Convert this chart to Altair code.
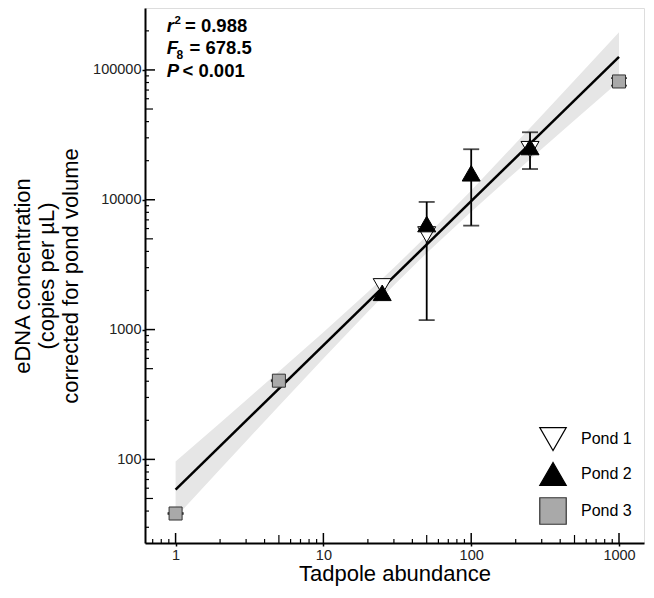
import altair as alt
import pandas as pd

# ---------------- data ----------------
ponds = ["Pond 1", "Pond 2", "Pond 3"]

pond1_x = [25, 50, 250]
pond1_y = [2150, 5400, 24500]
pond2_x = [25, 50, 100, 250]
pond2_y = [1920, 6500, 16000, 25500]
pond3_x = [1, 5, 1000]
pond3_y = [38.3, 404, 81500]

err_x = [1, 5, 50, 100, 250, 1000]
err_lo = [37.9, 400, 1183, 6320, 17250, 75700]
err_hi = [38.7, 408, 9620, 24500, 33100, 86500]

fit_x = [1, 1000]
fit_y = [58.6, 126000]

band_x = [1, 2, 3, 5, 10, 20, 30, 50, 100, 200, 300, 500, 1000]
band_lo = [35.7, 83.9, 138, 258, 600, 1374, 2198, 3890, 8075, 16370, 24600, 40950, 81500]
band_hi = [96.2, 191, 286, 476, 955, 1945, 2992, 5272, 11800, 27200, 44600, 83400, 195000]

x_major = [1, 10, 100, 1000]
x_mid = [5, 50, 500]
x_minor = [0.7, 0.8, 0.9, 2, 3, 4, 6, 7, 8, 9, 20, 30, 40, 60, 70, 80, 90,
           200, 300, 400, 600, 700, 800, 900]
y_major = [100, 1000, 10000, 100000]
y_mid = [50, 500, 5000, 50000]
y_minor = [30, 40, 60, 70, 80, 90, 200, 300, 400, 600, 700, 800, 900,
           2000, 3000, 4000, 6000, 7000, 8000, 9000,
           20000, 30000, 40000, 60000, 70000, 80000, 90000, 200000]

# ---------------- tables ----------------
pts = pd.DataFrame(
    {"x": pond1_x + pond2_x + pond3_x,
     "y": pond1_y + pond2_y + pond3_y,
     "pond": ["Pond 1"] * len(pond1_x) + ["Pond 2"] * len(pond2_x) + ["Pond 3"] * len(pond3_x)}
)
err = pd.DataFrame({"x": err_x, "y": err_lo, "y2": err_hi})
caps = pd.DataFrame({"x": err_x + err_x, "y": err_lo + err_hi})
fit = pd.DataFrame({"x": fit_x, "y": fit_y})
band = pd.DataFrame({"x": band_x, "y": band_lo, "y2": band_hi})

W, H = 499, 535
FONT = "Liberation Sans"

xs = alt.Scale(type="log", domain=[0.621, 1476], nice=False)
ys = alt.Scale(type="log", domain=[22.7, 300000], nice=False)
xaxis = alt.Axis(values=x_major, format="d", title="Tadpole abundance", grid=False,
                 tickSize=3, tickWidth=1.5, tickColor="black", domainColor="black",
                 domainWidth=2, labelFont=FONT, labelFontSize=14.5, labelColor="#222",
                 labelPadding=2, titleFont=FONT, titleFontSize=22, titleFontWeight="normal",
                 titleColor="black", titlePadding=2)
yaxis = alt.Axis(values=y_major, format="d",
                 title=["eDNA concentration", "(copies per µL)", "corrected for pond volume"],
                 grid=False, tickSize=3, tickWidth=1.5, tickColor="black", domainColor="black",
                 domainWidth=2, labelFont=FONT, labelFontSize=14.5, labelColor="#222",
                 labelPadding=1, titleFont=FONT, titleFontSize=22, titleFontWeight="normal",
                 titleColor="black", titleLineHeight=24, titlePadding=10)


def X(field="x"):
    return alt.X(f"{field}:Q", scale=xs, axis=xaxis)


def Y(field="y"):
    return alt.Y(f"{field}:Q", scale=ys, axis=yaxis)


band_layer = alt.Chart(band).mark_area(color="#e6e6e6").encode(
    x=X(), y=Y(), y2=alt.Y2("y2:Q"))

fit_layer = alt.Chart(fit).mark_line(color="black", strokeWidth=2.5).encode(x=X(), y=Y())


def xticks(vals, length, width):
    return alt.Chart(pd.DataFrame({"x": vals})).mark_rule(color="black", strokeWidth=width).encode(
        x=X(), y=alt.value(H), y2=alt.value(H - length))


def yticks(vals, length, width):
    return alt.Chart(pd.DataFrame({"y": vals})).mark_rule(color="black", strokeWidth=width).encode(
        y=Y(), x=alt.value(0), x2=alt.value(length))


tick_layers = [xticks(x_major, 10, 1.5), xticks(x_mid, 8, 1.2), xticks(x_minor, 4, 1.2),
               yticks(y_major, 10, 1.5), yticks(y_mid, 8, 1.2), yticks(y_minor, 4, 1.2)]

err_layer = alt.Chart(err).mark_rule(color="black", strokeWidth=1.8).encode(
    x=X(), y=Y(), y2=alt.Y2("y2:Q"))
cap_layer = alt.Chart(caps).mark_tick(color="black", orient="horizontal", size=16,
                                      thickness=1.8).encode(x=X(), y=Y())

legend = alt.Legend(title=None, orient="none", legendX=394, legendY=417,
                    symbolSize=700, labelFont=FONT, labelFontSize=16,
                    labelColor="black", rowPadding=7, labelOffset=14,
                    symbolStrokeWidth=1.2, padding=0)

point_layer = alt.Chart(pts).mark_point(filled=True, opacity=1, strokeWidth=1).encode(
    x=X(), y=Y(),
    shape=alt.Shape("pond:N", scale=alt.Scale(domain=ponds,
                                              range=["triangle-down", "triangle-up", "square"]),
                    legend=legend),
    fill=alt.Fill("pond:N", scale=alt.Scale(domain=ponds, range=["white", "black", "#a9a9a9"]),
                  legend=legend),
    stroke=alt.Stroke("pond:N", scale=alt.Scale(domain=ponds, range=["black", "black", "#333333"]),
                      legend=legend),
    size=alt.condition("datum.pond == 'Pond 3'", alt.value(170), alt.value(324)),
)


def txt(s, x, y, size=18.5, italic=False):
    return alt.Chart(pd.DataFrame({"t": [s]})).mark_text(
        font=FONT, fontSize=size, fontWeight="bold", fontStyle="italic" if italic else "normal",
        align="left", baseline="middle", color="black").encode(
        text="t:N", x=alt.value(x), y=alt.value(y))


ann = [
    txt("r", 21.7, 17.5, italic=True), txt("2", 29.5, 12.5, size=11.5), txt("= 0.988", 40, 17.5),
    txt("F", 21.7, 40, italic=True), txt("8", 31.5, 47, size=12), txt("= 678.5", 44.5, 40),
    txt("P", 21.7, 63, italic=True), txt("< 0.001", 37.5, 63),
]

chart = alt.layer(band_layer, fit_layer, *tick_layers, err_layer, cap_layer, point_layer, *ann).properties(
    width=W, height=H, autosize="none",
    padding={"left": 137, "top": 0, "right": 2, "bottom": 47},
).configure_view(stroke="black", strokeWidth=2).configure(background="white")

chart.save("out.html", embed_options={"renderer": "svg", "actions": False})
